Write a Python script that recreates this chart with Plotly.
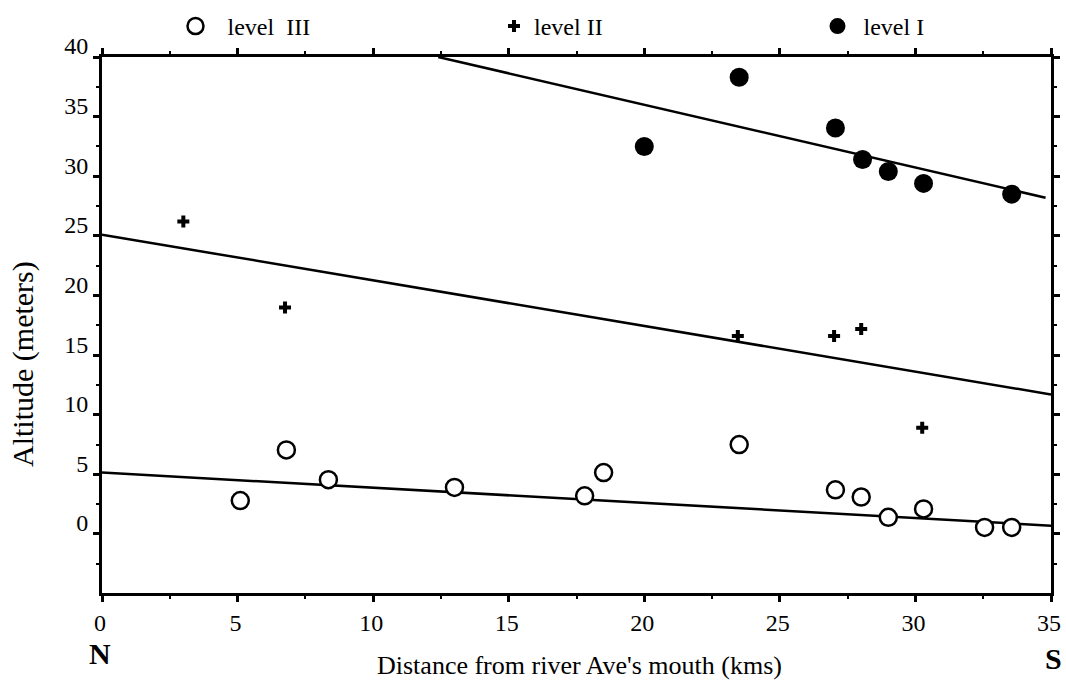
import plotly.graph_objects as go

# ---- data ----
x_tick_vals = [0, 5, 10, 15, 20, 25, 30, 35]
y_tick_vals = [0, 5, 10, 15, 20, 25, 30, 35, 40]

level1_x = [20.0, 23.5, 27.05, 28.05, 29.0, 30.3, 33.55]
level1_y = [32.5, 38.3, 34.05, 31.4, 30.4, 29.4, 28.5]

level2_x = [3.0, 6.75, 23.45, 27.0, 28.0, 30.25]
level2_y = [26.2, 19.0, 16.6, 16.6, 17.2, 8.9]

level3_x = [5.1, 6.8, 8.35, 13.0, 17.8, 18.5, 23.5, 27.05, 28.0, 29.0, 30.3, 32.55, 33.55]
level3_y = [2.8, 7.05, 4.55, 3.9, 3.2, 5.15, 7.5, 3.7, 3.1, 1.4, 2.1, 0.55, 0.55]

fit1_x = [12.4, 34.8]
fit1_y = [40.0, 28.2]
fit2_x = [0.0, 35.0]
fit2_y = [25.1, 11.7]
fit3_x = [0.0, 35.0]
fit3_y = [5.15, 0.7]

FONT = "Liberation Serif, Times New Roman, serif"
W, H = 1066, 682

fig = go.Figure()

# regression lines
for fx, fy in [(fit1_x, fit1_y), (fit2_x, fit2_y), (fit3_x, fit3_y)]:
    fig.add_trace(go.Scatter(x=fx, y=fy, mode="lines",
                             line=dict(color="black", width=2.5),
                             showlegend=False, hoverinfo="skip"))

fig.add_trace(go.Scatter(
    x=level3_x, y=level3_y, mode="markers",
    name="\u00a0\u00a0level\u00a0\u00a0III", legend="legend",
    marker=dict(symbol="circle", size=17, color="white",
                line=dict(color="black", width=2.5))))
fig.add_trace(go.Scatter(
    x=level2_x, y=level2_y, mode="markers", name="level II",
    legend="legend2",
    marker=dict(symbol="cross", size=10, color="black",
                line=dict(width=0))))
fig.add_trace(go.Scatter(
    x=level1_x, y=level1_y, mode="markers", name="\u00a0level I",
    legend="legend3",
    marker=dict(symbol="circle", size=19, color="black",
                line=dict(width=0))))

axis_common = dict(
    showline=True, linewidth=3, linecolor="black", mirror="allticks",
    ticks="outside", ticklen=6, tickwidth=2.5, tickcolor="black",
    showgrid=False, zeroline=False,
    tickfont=dict(family=FONT, size=24, color="black"),
)

fig.update_xaxes(range=[0, 35], tickmode="array", tickvals=x_tick_vals,
                 ticktext=[str(v) for v in x_tick_vals],
                 minor=dict(ticks="outside", ticklen=3, tickwidth=2,
                            tickcolor="black", dtick=2.5, tick0=0,
                            showgrid=False),
                 ticklabelshift=-2,
                 **axis_common)
fig.update_yaxes(range=[-4.95, 40], tickmode="array", tickvals=y_tick_vals,
                 ticktext=[str(v) for v in y_tick_vals],
                 minor=dict(ticks="outside", ticklen=3, tickwidth=2,
                            tickcolor="black", dtick=2.5, tick0=0,
                            showgrid=False),
                 ticklabelshift=-11,
                 **axis_common)


def legend_at(px_left):
    return dict(orientation="h", xref="container", yref="container",
                x=px_left / W, y=1 - 4 / H, xanchor="left", yanchor="top",
                font=dict(family=FONT, size=24, color="black"),
                bgcolor="rgba(0,0,0,0)", borderwidth=0)


fig.update_layout(
    width=W, height=H,
    margin=dict(l=102, r=15, t=57, b=89, autoexpand=False),
    paper_bgcolor="white", plot_bgcolor="white",
    font=dict(family=FONT, size=24, color="black"),
    showlegend=True,
    legend=legend_at(175.5),
    legend2=legend_at(494),
    legend3=legend_at(817.5),
    annotations=[
        dict(text="Altitude (meters)", xref="paper", yref="paper",
             x=-0.0825, y=0.4267, textangle=-90, showarrow=False,
             font=dict(family=FONT, size=30, color="black"),
             xanchor="center", yanchor="middle"),
        dict(text="Distance from river Ave's mouth (kms)", xref="paper",
             yref="paper", x=0.5036, y=-0.1349, showarrow=False,
             font=dict(family=FONT, size=26, color="black"),
             xanchor="center", yanchor="middle"),
        dict(text="<b>N</b>", xref="paper", yref="paper", x=-0.0023,
             y=-0.1125, showarrow=False,
             font=dict(family=FONT, size=30, color="black"),
             xanchor="center", yanchor="middle"),
        dict(text="<b>S</b>", xref="paper", yref="paper", x=1.0026,
             y=-0.122, showarrow=False,
             font=dict(family=FONT, size=30, color="black"),
             xanchor="center", yanchor="middle"),
    ],
)

fig.write_html("out.html")
